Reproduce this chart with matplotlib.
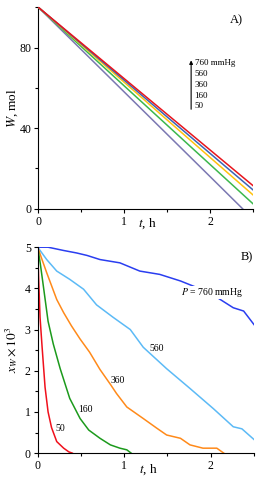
import matplotlib
matplotlib.use("Agg")
import matplotlib.pyplot as plt
import numpy as np

plt.rcParams['font.family'] = ['Liberation Serif', 'DejaVu Serif']
plt.rcParams['mathtext.fontset'] = 'stix'

# panel A: W (mol) vs t (h)
t_a = [0, 0.5, 1.0, 1.5, 2.0, 2.5]
w_760 = [100, 82.3, 64.6, 46.9, 29.2, 11.5]
w_560 = [100, 81.9, 63.8, 45.6, 27.5, 9.4]
w_360 = [100, 81.4, 62.8, 44.1, 25.5, 6.9]
w_160 = [100, 80.5, 61.0, 41.5, 22.0, 2.5]
t_a50 = [0, 0.5, 1.0, 1.5, 2.0, 2.38]
w_50 = [100, 79.0, 58.0, 37.0, 16.0, 0]

# panel B: x_W * 10^3 vs t (h)
t_b760 = [0, 0.12, 0.3, 0.45, 0.57, 0.72, 0.95, 1.18, 1.41, 1.65, 1.84, 2.05, 2.26, 2.38, 2.5]
x_b760 = [5, 5, 4.92, 4.86, 4.8, 4.70, 4.62, 4.42, 4.34, 4.18, 4.02, 3.81, 3.53, 3.45, 3.12]
t_b560 = [0, 0.104, 0.22, 0.37, 0.53, 0.68, 0.87, 1.07, 1.22, 1.49, 1.76, 2.03, 2.26, 2.36, 2.5]
x_b560 = [5, 4.70, 4.42, 4.22, 3.98, 3.6, 3.3, 3.0, 2.57, 2.05, 1.57, 1.08, 0.64, 0.59, 0.33]
t_b360 = [0, 0.05, 0.104, 0.22, 0.30, 0.39, 0.49, 0.60, 0.72, 0.84, 0.91, 1.03, 1.22, 1.38,
          1.49, 1.65, 1.76, 1.91, 2.07, 2.15]
x_b360 = [5, 4.7, 4.38, 3.73, 3.41, 3.09, 2.77, 2.45, 2.03, 1.67, 1.45, 1.12, 0.84, 0.60,
          0.44, 0.36, 0.2, 0.12, 0.12, 0]
t_b160 = [0, 0.03, 0.065, 0.12, 0.18, 0.26, 0.37, 0.49, 0.59, 0.72, 0.84, 0.95, 1.03, 1.08]
x_b160 = [5, 4.6, 4.06, 3.2, 2.65, 2.05, 1.33, 0.84, 0.56, 0.36, 0.2, 0.12, 0.08, 0]
t_b50 = [0, 0.01, 0.027, 0.05, 0.085, 0.12, 0.16, 0.22, 0.30, 0.36, 0.40]
x_b50 = [5, 4.3, 3.3, 2.6, 1.6, 1.0, 0.62, 0.28, 0.12, 0.03, 0]

legend_a = ['760 mmHg', '560', '360', '160', '50']

fig = plt.figure(figsize=(2.6, 4.8), dpi=100)
ax1 = fig.add_axes([0.147, 0.565, 0.826, 0.42])
ax2 = fig.add_axes([0.145, 0.056, 0.832, 0.429])

lw = 1.1
ax1.plot(t_a, w_760, color='#e8141c', lw=lw, zorder=6)
ax1.plot(t_a, w_560, color='#3c64b4', lw=lw, zorder=5)
ax1.plot(t_a, w_360, color='#ffc20e', lw=lw, zorder=4)
ax1.plot(t_a, w_160, color='#3cb84c', lw=lw, zorder=3)
ax1.plot(t_a50, w_50, color='#7b78b2', lw=lw, zorder=2)

ax2.plot(t_b760, x_b760, color='#2a3ef0', lw=lw)
ax2.plot(t_b560, x_b560, color='#5cbaf6', lw=lw)
ax2.plot(t_b360, x_b360, color='#ff8a1a', lw=lw)
ax2.plot(t_b160, x_b160, color='#1c9a1c', lw=lw)
ax2.plot(t_b50, x_b50, color='#f0101c', lw=lw)

for ax in (ax1, ax2):
    ax.spines['top'].set_visible(False)
    ax.spines['right'].set_visible(False)
    ax.set_xlim(0, 2.5)
    ax.set_xticks([0, 1, 2])
    ax.set_xticks([0.5, 1.5, 2.5], minor=True)
    ax.tick_params(which='major', direction='out', length=3, width=0.8, labelsize=8.5, pad=2)
    ax.tick_params(which='minor', direction='out', length=2, width=0.8)
    ax.set_xlabel('$t$, h', fontsize=9.5)

ax1.set_ylim(0, 100)
ax1.set_yticks([0, 40, 80])
ax1.set_yticks([20, 60, 100], minor=True)
ax1.set_ylabel('$W$, mol', fontsize=9.5)
ax1.xaxis.set_label_coords(0.51, -0.04)
ax1.yaxis.set_label_coords(-0.084, 0.5)

ax2.set_ylim(0, 5)
ax2.set_yticks([0, 1, 2, 3, 4, 5])
ax2.set_yticks([0.5, 1.5, 2.5, 3.5, 4.5], minor=True)
ax2.set_ylabel(r'$x_W\times10^3$', fontsize=9.5)
ax2.xaxis.set_label_coords(0.51, -0.045)
ax2.yaxis.set_label_coords(-0.082, 0.5)

ax1.text(2.31, 93.6, 'A)', fontsize=9, ha='center', va='center')
ax2.text(2.42, 4.75, 'B)', fontsize=9, ha='center', va='center')

# pressure arrow legend in panel A
ax1.annotate('', xy=(1.78, 75), xytext=(1.78, 48),
             arrowprops=dict(arrowstyle='-|>', color='black', lw=0.8, mutation_scale=5))
for i, lab in enumerate(legend_a):
    ax1.text(1.82, 72.1 - i * 5.3, lab, fontsize=6.5, ha='left', va='center')

# curve labels in panel B
ax2.text(2.02, 3.9, '$P$ = 760 mmHg', fontsize=7, ha='center', va='center',
         bbox=dict(facecolor='white', edgecolor='none', pad=0.3), zorder=10)
ax2.text(1.38, 2.53, '560', fontsize=7, ha='center', va='center')
ax2.text(0.92, 1.76, '360', fontsize=7, ha='center', va='center')
ax2.text(0.55, 1.07, '160', fontsize=7, ha='center', va='center')
ax2.text(0.26, 0.6, '50', fontsize=7, ha='center', va='center')

fig.savefig('out.png', dpi=100)
